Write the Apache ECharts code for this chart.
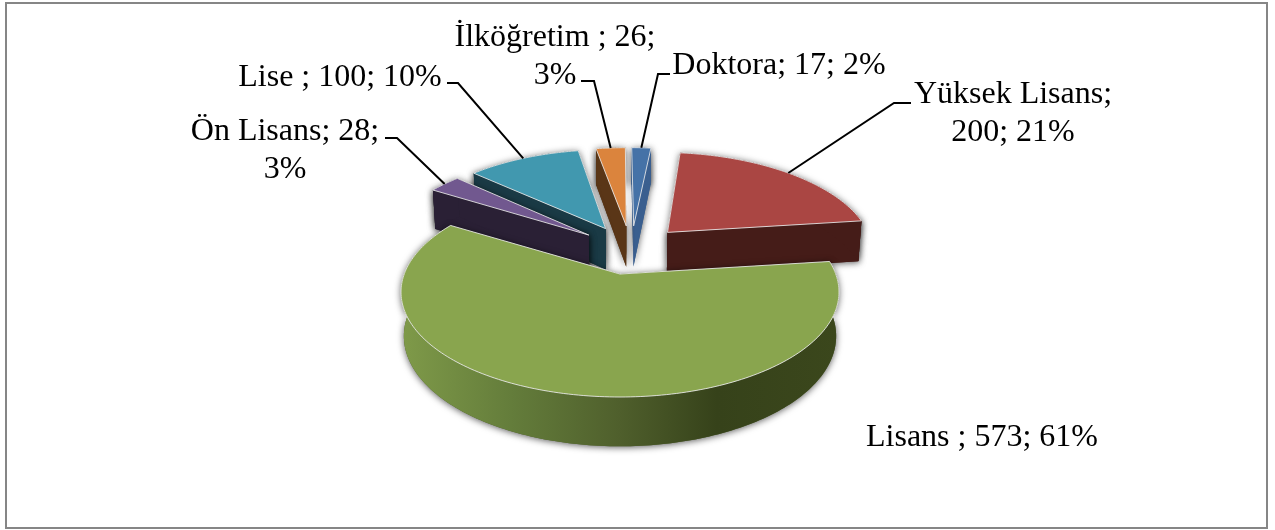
<!DOCTYPE html>
<html><head><meta charset="utf-8">
<style>html,body{margin:0;padding:0;background:#fff}#c{width:1275px;height:530px}</style>
<script src="https://cdn.jsdelivr.net/npm/echarts@6/dist/echarts.min.js"></script>
</head><body><div id="c"></div>
<script>
const categories = ['Doktora','Yüksek Lisans','Lisans ','Ön Lisans','Lise ','İlköğretim '];
const values = [17,200,573,28,100,26];
const percents = [2,21,61,3,10,3];
const labelBreakAfter = [0,1,0,2,0,2];

const topColors = ['#4572A7','#AA4643','#89A54E','#71588F','#4198AF','#DB843D'];
const wallColors = ['#3A5F8F','#451C18','#3F4C1F','#2A2035','#1A3A45','#5A3617'];
const drawRank = [2,1,6,5,4,3];
const labelX = [779,1013,982,285,340,555];
const labelY = [66,113.5,437.5,150.5,77.5,57];
const elbows = [
  [[670,74],[658,74]],
  [[911,103],[894,103]],
  null,
  [[385,138],[397,138]],
  [[447,83],[458,83]],
  [[581,81],[594,81]]
];

// perspective pie model
const CX=620, CY=292, RX=219, RY=105, A=-0.171, EXPLODE=0.26, EXPLODED_RU=1.0, EXPLODED_RV=1.06;
const FLOOR_SCALE=0.987, DEPTH0=41, DEPTH_SLOPE=0.05;
const total = values.reduce((a,b)=>a+b,0);
const frac = values.map(v=>v/total*Math.PI*2);
const starts = frac.map((_,i)=>frac.slice(0,i).reduce((a,b)=>a+b,0));
const dirOf = t=>[Math.sin(t),-Math.cos(t)];
const refMid = starts[2]+frac[2]/2;
const refDir = dirOf(refMid);

function proj(u,v){
  const den=1+A*v, s=Math.sqrt(1-A*A);
  return [CX+RX*u*s/den, CY+RY*(v+A)/den];
}
function floorOf(p){
  return [CX+(p[0]-CX)*FLOOR_SCALE, p[1]+DEPTH0+(p[1]-232)*DEPTH_SLOPE];
}
function slice(i){
  const mid=starts[i]+frac[i]/2, d=dirOf(mid);
  const isRef=i===2, ru=isRef?1:EXPLODED_RU, rv=isRef?1:EXPLODED_RV;
  const ox=isRef?0:EXPLODE*(d[0]-refDir[0]), oy=isRef?0:EXPLODE*(d[1]-refDir[1]);
  const apex=proj(ox,oy), arc=[];
  const n=Math.max(4,Math.ceil(frac[i]/0.02));
  for(let k=0;k<=n;k++){
    const q=dirOf(starts[i]+frac[i]*k/n);
    arc.push(proj(ox+ru*q[0],oy+rv*q[1]));
  }
  const m=dirOf(mid);
  return {apex,arc,anchor:proj(ox+ru*m[0],oy+rv*m[1])};
}
const SHADOW={shadowBlur:7,shadowColor:'rgba(0,0,0,0.65)',shadowOffsetY:1};
const rim='rgba(235,235,235,0.85)';

function renderItem(params,api){
  const i=params.dataIndex, s=slice(i), z=drawRank[i]*10, ch=[];
  const wall=i===2
    ? {type:'linear',x:0,y:0,x2:1,y2:0,colorStops:[
        {offset:0,color:'#7F9A49'},{offset:0.25,color:'#647D3B'},
        {offset:0.5,color:'#4F5F2C'},{offset:0.72,color:'#36421A'},{offset:1,color:'#3B471C'}]}
    : wallColors[i];
  const outer=s.arc.concat(s.arc.map(floorOf).reverse());
  const first=s.arc[0], last=s.arc[s.arc.length-1];
  const walls=[outer,
    [s.apex,first,floorOf(first),floorOf(s.apex)],
    [s.apex,last,floorOf(last),floorOf(s.apex)]];
  walls.forEach(pts=>ch.push({type:'polygon',z2:z,shape:{points:pts},
    style:Object.assign({fill:i===2?'#4F5F2C':wallColors[i]},SHADOW)}));
  [walls[1],walls[2],walls[0]].forEach((pts,k)=>ch.push({type:'polygon',z2:z+1+k,shape:{points:pts},
    style:{fill:k===2?wall:wallColors[i]}}));
  ch.push({type:'polygon',z2:z+5,shape:{points:[s.apex].concat(s.arc)},
    style:{fill:topColors[i],stroke:rim,lineWidth:1}});
  if(elbows[i]){
    ch.push({type:'polyline',z2:90,shape:{points:elbows[i].concat([s.anchor])},
      style:{fill:null,stroke:'#000',lineWidth:2}});
  }
  const head=categories[i]+'; ', val=values[i]+'; ', pc=percents[i]+'%';
  const b=labelBreakAfter[i];
  const text=b===1?categories[i]+';\n'+val+pc : b===2?head+val.trim()+'\n'+pc : head+val+pc;
  ch.push({type:'text',z2:95,x:labelX[i],y:labelY[i],style:{
    text,fill:'#000',font:'32px "Liberation Serif"',align:'center',verticalAlign:'middle',lineHeight:38}});
  return {type:'group',children:ch};
}

const chart=echarts.init(document.getElementById('c'),null,{renderer:'canvas'});
chart.setOption({
  animation:false,
  backgroundColor:'#fff',
  graphic:[{type:'rect',z:100,shape:{x:6,y:3,width:1261,height:525},
    style:{fill:null,stroke:'#868686',lineWidth:2},silent:true}],
  series:[{type:'custom',coordinateSystem:'none',silent:true,renderItem,
    data:categories.map((n,i)=>({name:n,value:values[i]}))}]
});
</script></body></html>
